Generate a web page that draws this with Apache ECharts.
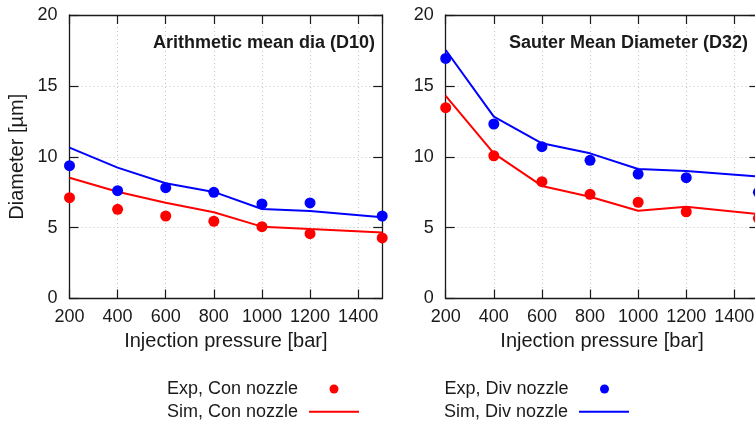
<!DOCTYPE html>
<html>
<head>
<meta charset="utf-8">
<script src="https://cdn.jsdelivr.net/npm/echarts@6/dist/echarts.min.js"></script>
<style>
  html, body { margin: 0; padding: 0; background: #ffffff; }
  #chart { width: 755px; height: 424px; }
</style>
</head>
<body>
<div id="chart"></div>
<script>
// Injection pressures [bar] at which diameters were measured / simulated
const pressures = [200, 400, 600, 800, 1000, 1200, 1500];

// Arithmetic mean diameter D10 [µm]
const d10ExpCon = [7.11, 6.29, 5.82, 5.45, 5.07, 4.57, 4.27];
const d10SimCon = [8.52, 7.53, 6.76, 6.08, 5.07, 4.90, 4.66];
const d10ExpDiv = [9.37, 7.61, 7.82, 7.49, 6.67, 6.74, 5.82];
const d10SimDiv = [10.64, 9.23, 8.13, 7.52, 6.31, 6.17, 5.73];

// Sauter mean diameter D32 [µm]
const d32ExpCon = [13.46, 10.07, 8.24, 7.35, 6.79, 6.12, 5.66];
const d32SimCon = [14.29, 10.24, 7.94, 7.18, 6.19, 6.48, 5.96];
const d32ExpDiv = [16.94, 12.31, 10.71, 9.75, 8.78, 8.52, 7.49];
const d32SimDiv = [17.53, 12.83, 10.95, 10.24, 9.14, 9.00, 8.60];

// Axis ranges
const xRange = { min: 200, max: 1500, step: 200 };
const yRange = { min: 0, max: 20, step: 5 };

const panelTitles = ['Arithmetic mean dia (D10)', 'Sauter Mean Diameter (D32)'];
const seriesNames = ['Exp, Con nozzle', 'Sim, Con nozzle', 'Exp, Div nozzle', 'Sim, Div nozzle'];

const FONT = "'Liberation Sans', Arial, Helvetica, sans-serif";
const INK = '#1a1a1a';
const RED = '#ff0000';
const BLUE = '#0000ff';

const pair = (ys) => pressures.map((x, i) => [x, ys[i]]);

const gridRects = [
  { left: 69.5, top: 15, width: 312.7, height: 283.5 },
  { left: 445.7, top: 15, width: 312.7, height: 283.5 }
];

const tickStyle = { show: true, inside: true, length: 9, lineStyle: { color: INK, width: 1.2 } };
const lineStyleAxis = { show: true, onZero: false, lineStyle: { color: INK, width: 1.3 } };
const gridLineStyle = { show: true, lineStyle: { color: '#c4c4c4', width: 1, type: [1, 3] } };

const xAxes = [];
const yAxes = [];
gridRects.forEach((g, k) => {
  // bottom axis with labels
  xAxes.push({
    type: 'value', gridIndex: k, position: 'bottom',
    min: xRange.min, max: xRange.max, interval: xRange.step,
    name: 'Injection pressure [bar]', nameLocation: 'middle', nameGap: 33,
    nameTextStyle: { fontFamily: FONT, fontSize: 20, color: INK },
    axisLine: lineStyleAxis, axisTick: tickStyle,
    axisLabel: {
      show: true, showMaxLabel: false, margin: 10, fontFamily: FONT, fontSize: 18, color: INK,
      formatter: (v) => String(v)
    },
    splitLine: gridLineStyle
  });
  // mirrored top axis (ticks only)
  xAxes.push({
    type: 'value', gridIndex: k, position: 'top',
    min: xRange.min, max: xRange.max, interval: xRange.step,
    axisLine: lineStyleAxis, axisTick: tickStyle,
    axisLabel: { show: false }, splitLine: { show: false }
  });
  yAxes.push({
    type: 'value', gridIndex: k, position: 'left',
    min: yRange.min, max: yRange.max, interval: yRange.step,
    name: k === 0 ? 'Diameter [µm]' : '', nameLocation: 'middle', nameGap: 42, nameRotate: 90,
    nameTextStyle: { fontFamily: FONT, fontSize: 20, color: INK },
    axisLine: lineStyleAxis, axisTick: tickStyle,
    axisLabel: { show: true, margin: 12, fontFamily: FONT, fontSize: 18, color: INK },
    splitLine: gridLineStyle
  });
  yAxes.push({
    type: 'value', gridIndex: k, position: 'right',
    min: yRange.min, max: yRange.max, interval: yRange.step,
    axisLine: lineStyleAxis, axisTick: tickStyle,
    axisLabel: { show: false }, splitLine: { show: false }
  });
});

function panelSeries(k, expCon, simCon, expDiv, simDiv) {
  const ax = { xAxisIndex: 2 * k, yAxisIndex: 2 * k };
  const simLine = (name, data, color) => Object.assign({
    type: 'line', name, data: pair(data), symbol: 'none', clip: false,
    lineStyle: { color, width: 2 }, itemStyle: { color }, z: 3
  }, ax);
  const expDots = (name, data, color) => Object.assign({
    type: 'scatter', name, data: pair(data), symbol: 'circle', symbolSize: 11, clip: false,
    itemStyle: { color, opacity: 1 }, z: 4
  }, ax);
  return [
    expDots(seriesNames[0], expCon, RED),
    simLine(seriesNames[1], simCon, RED),
    expDots(seriesNames[2], expDiv, BLUE),
    simLine(seriesNames[3], simDiv, BLUE)
  ];
}

// One legend entry per key row: text right-aligned, sample to its right
function keyEntry(name, right, rowCenter, isLine) {
  const h = isLine ? 2 : 9;
  return {
    data: [{ name, icon: isLine ? 'rect' : 'circle' }],
    orient: 'horizontal', align: 'right', padding: 0,
    itemWidth: 50, itemHeight: h,
    right, top: rowCenter - 10,
    textStyle: { fontFamily: FONT, fontSize: 18, color: INK, lineHeight: 20, padding: [0, 6, 0, 0] },
    selectedMode: false
  };
}

const option = {
  animation: false,
  backgroundColor: '#ffffff',
  grid: gridRects.map(g => Object.assign({ show: false, outerBoundsMode: 'none' }, g)),
  title: [
    { text: panelTitles[0], right: 380, top: 34.5, padding: 0,
      textStyle: { fontFamily: FONT, fontSize: 18, fontWeight: 'bold', color: INK } },
    { text: panelTitles[1], right: 7, top: 34.5, padding: 0,
      textStyle: { fontFamily: FONT, fontSize: 18, fontWeight: 'bold', color: INK } }
  ],
  legend: [
    keyEntry(seriesNames[0], 416.5, 389, false),
    keyEntry(seriesNames[1], 396, 411.7, true),
    keyEntry(seriesNames[2], 146, 389, false),
    keyEntry(seriesNames[3], 126, 411.7, true)
  ],
  xAxis: xAxes,
  yAxis: yAxes,
  series: [].concat(
    panelSeries(0, d10ExpCon, d10SimCon, d10ExpDiv, d10SimDiv),
    panelSeries(1, d32ExpCon, d32SimCon, d32ExpDiv, d32SimDiv)
  )
};

const chart = echarts.init(document.getElementById('chart'), null, { renderer: 'canvas' });
chart.setOption(option);
</script>
</body>
</html>
